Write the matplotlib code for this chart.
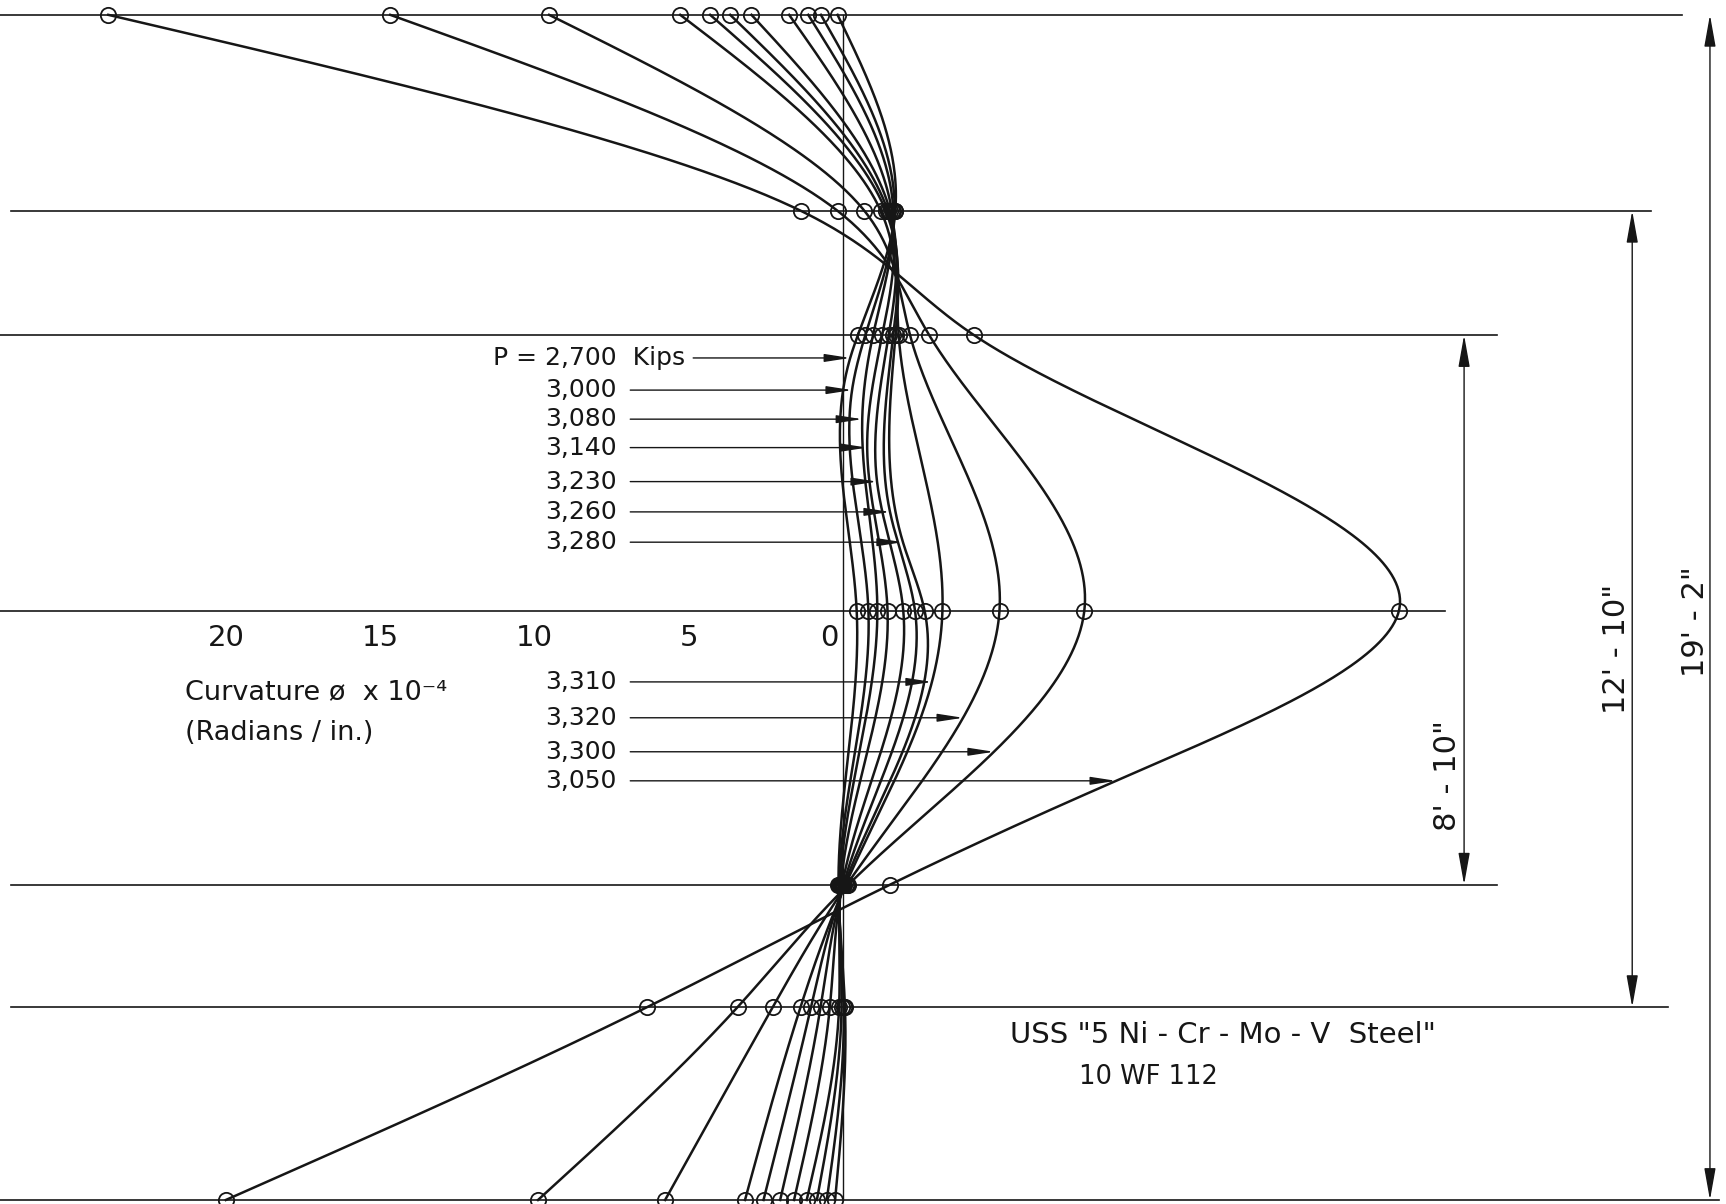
import numpy as np
import matplotlib
matplotlib.use("Agg")
import matplotlib.pyplot as plt

plt.rcParams['font.family'] = ['DejaVu Sans']

# gauge stations, height above base of column (ft)
stations = [0.0, 3.12, 5.10, 9.535, 13.99, 16.0, 19.17]

loads = ["2,700", "3,000", "3,080", "3,140", "3,230", "3,260", "3,280",
         "3,310", "3,320", "3,300", "3,050"]

# curvature x 10^-4 rad/in at each station, bottom -> top
phi_bottom = [0.26, 0.53, 0.85, 1.18, 1.59, 2.04, 2.58, 3.18, 5.77, 9.89, 20.01]
phi_st6 = [-0.06, -0.02, 0.05, 0.13, 0.43, 0.73, 1.04, 1.38, 2.28, 3.42, 6.35]
phi_st5 = [0.15, 0.13, 0.10, 0.07, 0.03, -0.01, -0.04, -0.08, -0.12, -0.17, -1.52]
phi_mid = [-0.44, -0.82, -1.11, -1.44, -1.95, -2.33, -2.64, -3.22, -5.07, -7.82, -18.02]
phi_st3 = [-0.48, -0.72, -0.97, -1.27, -1.48, -1.63, -1.70, -1.80, -2.17, -2.79, -4.24]
phi_st2 = [-1.69, -1.67, -1.63, -1.58, -1.52, -1.45, -1.38, -1.22, -0.69, 0.18, 1.37]
phi_top = [0.18, 0.72, 1.13, 1.75, 2.97, 3.66, 4.31, 5.28, 9.53, 14.68, 23.82]

# where each load's leader arrow meets its curve (height ft, curvature)
tip_h = [13.62, 13.10, 12.63, 12.17, 11.62, 11.13, 10.64, 8.38, 7.80, 7.25, 6.78]
tip_phi = [-0.23, -0.29, -0.62, -0.78, -1.10, -1.52, -1.94, -2.88, -3.89, -4.89, -8.85]

tick_vals = [20, 15, 10, 5, 0]

ink = '#161616'


def spline(hk, ck, hs):
    # natural cubic spline, curvature as a function of height
    hk = np.asarray(hk, float)
    ck = np.asarray(ck, float)
    n = len(hk)
    dh = np.diff(hk)
    A = np.zeros((n, n))
    r = np.zeros(n)
    A[0, 0] = A[-1, -1] = 1
    for i in range(1, n - 1):
        A[i, i - 1] = dh[i - 1]
        A[i, i] = 2 * (dh[i - 1] + dh[i])
        A[i, i + 1] = dh[i]
        r[i] = 3 * ((ck[i + 1] - ck[i]) / dh[i] - (ck[i] - ck[i - 1]) / dh[i - 1])
    cc = np.linalg.solve(A, r)
    b = np.diff(ck) / dh - dh * (2 * cc[:-1] + cc[1:]) / 3
    d = (cc[1:] - cc[:-1]) / (3 * dh)
    idx = np.clip(np.searchsorted(hk, hs) - 1, 0, n - 2)
    x = hs - hk[idx]
    return ck[idx] + b[idx] * x + cc[idx] * x ** 2 + d[idx] * x ** 3


fig = plt.figure(figsize=(17.26, 12.04), dpi=100)
ax = fig.add_axes([0, 0, 1, 1])
ax.set_xlim(27.33, -28.62)
ax.set_ylim(-0.065, 19.41)
ax.axis('off')

# station lines
line_ext = [(27.33, -28.4), (26.97, -26.74), (26.97, -21.2), (27.33, -19.51),
            (27.33, -21.2), (26.97, -26.19), (27.33, -27.2)]
for h, (x0, x1) in zip(stations, line_ext):
    ax.plot([x0, x1], [h, h], color=ink, lw=1.2, zorder=1)

# zero curvature line
ax.plot([0, 0], [stations[0], stations[-1]], color=ink, lw=1.0, zorder=1)

table = np.array([phi_bottom, phi_st6, phi_st5, phi_mid, phi_st3, phi_st2, phi_top])
hs = np.linspace(stations[0], stations[-1], 600)
for j in range(len(loads)):
    hk = list(stations) + [tip_h[j]]
    ck = list(table[:, j]) + [tip_phi[j]]
    order = np.argsort(hk)
    hk = np.array(hk)[order]
    ck = np.array(ck)[order]
    ax.plot(spline(hk, ck, hs), hs, color=ink, lw=1.8, zorder=2)
    ax.plot(table[:, j], stations, ls='none', marker='o', ms=11, mfc='none',
            mec=ink, mew=1.3, zorder=3)

# load labels with leader arrows
fs = 18
for j, lab in enumerate(loads):
    h = tip_h[j]
    if j == 0:
        ax.text(9.66, h, "P = ", fontsize=fs, ha='right', va='center', color=ink)
        ax.text(9.66, h, "2,700  Kips", fontsize=fs, ha='left', va='center', color=ink)
        x_start = 4.86
    else:
        ax.text(9.66, h, lab, fontsize=fs, ha='left', va='center', color=ink)
        x_start = 6.9
    ax.annotate('', xy=(tip_phi[j], h), xytext=(x_start, h),
                arrowprops=dict(arrowstyle='-|>,head_length=1.1,head_width=0.17',
                                color=ink, lw=1.0, shrinkA=0, shrinkB=0,
                                mutation_scale=14))

# curvature scale
for v in tick_vals:
    if v == 0:
        ax.text(0.15, 9.09, "0", fontsize=21, ha='right', va='center', color=ink)
    else:
        ax.text(v, 9.09, str(v), fontsize=21, ha='center', va='center', color=ink)
ax.text(21.33, 8.22, "Curvature ø  x 10⁻⁴", fontsize=19.5, ha='left', va='center', color=ink)
ax.text(21.33, 7.55, "(Radians / in.)", fontsize=19.5, ha='left', va='center', color=ink)

# steel description
ax.text(-5.41, 2.67, 'USS "5 Ni - Cr - Mo - V  Steel"', fontsize=21, ha='left',
        va='center', color=ink)
ax.text(-7.65, 1.99, '10 WF 112', fontsize=18.5, ha='left', va='center', color=ink)

# dimension lines
dims = [(-20.13, stations[4], stations[2], "8' - 10\"", -19.58, 6.86),
        (-25.58, stations[5], stations[1], "12' - 10\"", -25.06, 8.91),
        (-28.10, stations[6], stations[0], "19' - 2\"", -27.62, 9.35)]
for x, h0, h1, txt, tx, ty in dims:
    ax.annotate('', xy=(x, h0), xytext=(x, h1),
                arrowprops=dict(arrowstyle='<|-|>,head_length=1.4,head_width=0.25',
                                color=ink, lw=1.0, shrinkA=0, shrinkB=0,
                                mutation_scale=14))
    ax.text(tx, ty, txt, fontsize=22, rotation=90, ha='center', va='center', color=ink)

fig.savefig('out.png', dpi=100, facecolor='white')
